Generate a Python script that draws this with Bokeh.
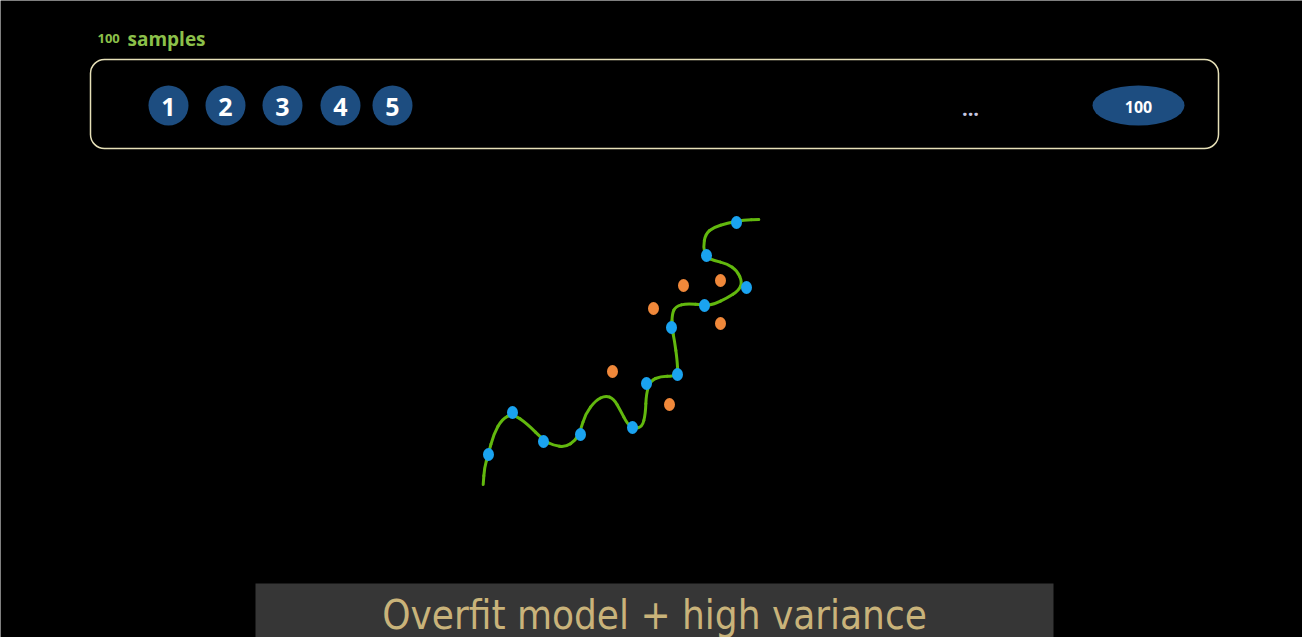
from bokeh.plotting import figure
from bokeh.models import Range1d
from bokeh.core.properties import value
from bokeh.embed import file_html
from bokeh.resources import INLINE

W, H = 1302, 637

# ---- data (screen-like coordinates, y grows downward) ----
sample_labels = ["1", "2", "3", "4", "5"]
sample_x = [168, 225, 282, 340, 392]
sample_y = [105, 105, 105, 105, 105]
last_label = ["100"]
last_x = [1138]
last_y = [105]

train_x = [488, 512, 543, 580, 632, 646, 677, 671, 704, 746, 706, 736]
train_y = [454, 412, 441, 434, 427, 383, 374, 327, 305, 287, 255, 222]

test_x = [612, 653, 683, 720, 720, 669]
test_y = [371, 308, 285, 280, 323, 404]

curve_x = [482.7, 484, 487.7, 493.3, 501.7, 512.3, 526.7, 543.3, 553.3, 565, 575, 580,
           585, 595, 605, 613.3, 620, 626.7, 633.3, 641.7, 645, 645.7, 650, 660, 673.3,
           677.3, 676.7, 674, 671.3, 671.7, 675, 686.7, 703.7, 713.3, 726.7, 738.3,
           741.7, 736.7, 726.7, 713.3, 705.7, 702.7, 705, 713.3, 726.7, 743.3, 758.3]
curve_y = [484, 466.7, 454, 433.3, 418.3, 413.3, 423.3, 440, 445, 446.7, 440, 430,
           413.3, 400, 395, 398.3, 410, 423.3, 427.7, 426.7, 413.3, 393.3, 380, 376, 375.7,
           373.3, 360, 340, 327, 313.3, 306, 302.7, 305, 304, 297.3, 290,
           281.7, 270, 263.3, 260, 256.7, 246.7, 233.3, 226.7, 222.7, 219.3, 219]

title_small = "100"
title_big = "samples"
caption = "Overfit model + high variance"

p = figure(width=W, height=H, output_backend="svg", toolbar_location=None,
           x_range=Range1d(0, W), y_range=Range1d(H, 0), min_border=0)
p.axis.visible = False
p.grid.visible = False
p.outline_line_color = None
p.background_fill_color = "black"
p.border_fill_color = "black"

# header title
p.text(x=[97], y=[38], text=[title_small], text_font=value("Open Sans"),
       text_font_size="13px", text_font_style="bold", text_color="#8cc04a",
       text_baseline="alphabetic", text_align="left")
p.text(x=[127], y=[38], text=[title_big], text_font=value("Open Sans"),
       text_font_size="19px", text_font_style="bold", text_color="#8cc04a",
       text_baseline="alphabetic", text_align="left")

# rounded box
p.quad(left=[90], right=[1218], top=[59], bottom=[148], fill_color=None,
       line_color="#e6e0b8", line_width=1.5, border_radius=14)

# numbered circles
p.ellipse(x=sample_x, y=sample_y, width=40, height=40, fill_color="#1d4d80",
          line_color=None)
p.text(x=sample_x, y=[v + 1 for v in sample_y], text=sample_labels,
       text_font=value("Open Sans"), text_font_size="25px", text_font_style="bold",
       text_color="white", text_align="center", text_baseline="middle")
p.text(x=[970], y=[108], text=["..."], text_font=value("Open Sans"),
       text_font_size="20px", text_font_style="bold", text_color="#c8c8e0",
       text_align="center", text_baseline="middle")
p.ellipse(x=last_x, y=last_y, width=92, height=40, fill_color="#1d4d80",
          line_color=None)
p.text(x=last_x, y=[v + 1 for v in last_y], text=last_label,
       text_font=value("Open Sans"), text_font_size="16px", text_font_style="bold",
       text_color="white", text_align="center", text_baseline="middle")

# overfit curve: smooth quadratic pieces through the traced points
n = len(curve_x)
mid_x = [(curve_x[i] + curve_x[i + 1]) / 2 for i in range(n - 1)]
mid_y = [(curve_y[i] + curve_y[i + 1]) / 2 for i in range(n - 1)]
green = "#62b80e"
p.segment(x0=[curve_x[0], mid_x[-1]], y0=[curve_y[0], mid_y[-1]],
          x1=[mid_x[0], curve_x[-1]], y1=[mid_y[0], curve_y[-1]],
          line_color=green, line_width=3, line_cap="round")
p.quadratic(x0=mid_x[:-1], y0=mid_y[:-1], x1=mid_x[1:], y1=mid_y[1:],
            cx=curve_x[1:-1], cy=curve_y[1:-1], line_color=green, line_width=3,
            line_cap="round")

p.ellipse(x=train_x, y=train_y, width=11, height=13, fill_color="#1aa3f0",
          line_color=None)
p.ellipse(x=test_x, y=test_y, width=11, height=13, fill_color="#f0883a",
          line_color=None)

# caption bar
p.quad(left=[255], right=[1053], top=[583], bottom=[640], fill_color="#363636",
       line_color=None)
p.text(x=[654], y=[614], text=[caption],
       text_font=value("'DejaVu Sans Condensed', 'Liberation Sans Narrow', Roboto, sans-serif"),
       text_font_size="40px", text_color="#c9b37a", text_align="center",
       text_baseline="middle")

open("out.html", "w").write(file_html(p, INLINE))
